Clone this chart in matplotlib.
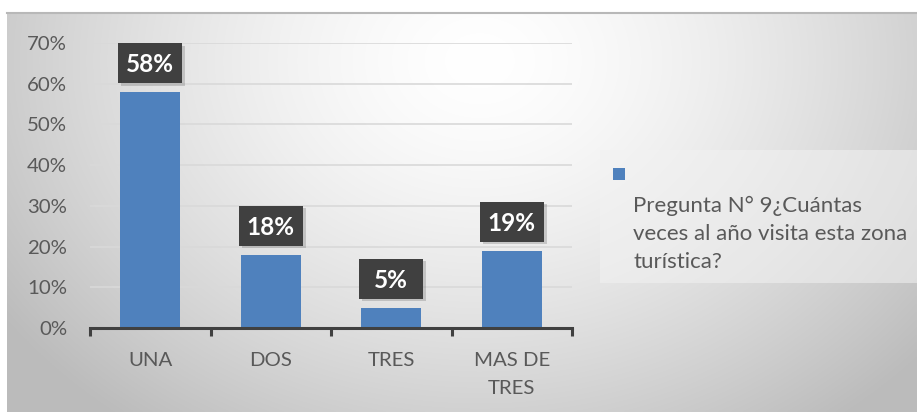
import numpy as np
import matplotlib
matplotlib.use("Agg")
import matplotlib.pyplot as plt
from matplotlib.patches import Rectangle
import matplotlib.patheffects as pe

categories = ["UNA", "DOS", "TRES", "MAS DE\nTRES"]
values = [0.58, 0.18, 0.05, 0.19]
labels = ["58%", "18%", "5%", "19%"]
yticks = [0, 0.1, 0.2, 0.3, 0.4, 0.5, 0.6, 0.7]
ytick_labels = ["0%", "10%", "20%", "30%", "40%", "50%", "60%", "70%"]
legend_text = "Pregunta N° 9¿Cuántas\nveces al año visita esta zona\nturística?"

W, H = 917, 412
plt.rcParams['font.family'] = ['Lato', 'DejaVu Sans']
fig = plt.figure(figsize=(W / 100, H / 100), dpi=100)
fig.patch.set_facecolor("white")

# gradient background
bg = fig.add_axes([7 / W, 0, 1 - 7 / W, (H - 13) / H], zorder=-10)
xx, yy = np.meshgrid(np.linspace(7, W, 400), np.linspace(13, H, 200))
d = np.sqrt(((xx - 480) / 480) ** 2 + ((yy - 60) / 380) ** 2)
d = np.clip(d, 0, 1.2)
v = 1 - 0.2 * (d ** 1.5)
img = np.dstack([v, v, v])
bg.imshow(img, extent=[0, 1, 0, 1], aspect="auto", origin="upper", interpolation="bilinear")
bg.set_axis_off()
fig.add_artist(plt.Line2D([7 / W, 1], [(H - 13) / H, (H - 13) / H], color="#b8b8b8", lw=1.5))

# legend box
fig.add_artist(Rectangle((600 / W, (H - 283) / H), (W - 600) / W, 133 / H,
                         transform=fig.transFigure, facecolor="#f2f2f2", alpha=0.55,
                         edgecolor="none", zorder=1))
fig.add_artist(Rectangle((613 / W, (H - 180) / H), 12 / W, 12 / H,
                         transform=fig.transFigure, facecolor="#4f81bd",
                         edgecolor="none", zorder=2))
fig.text(633 / W, (H - 196) / H, legend_text, fontsize=16, color="#595959",
         va="top", ha="left", linespacing=1.5, zorder=3)

ax = fig.add_axes([90 / W, (H - 328) / H, (572 - 90) / W, (328 - 43) / H])
ax.patch.set_visible(False)
x = np.arange(len(categories))
ax.bar(x, values, width=0.5, color="#4f81bd", zorder=3)
ax.set_xlim(-0.5, 3.5)
ax.set_ylim(0, 0.7)
ax.set_yticks(yticks)
ax.set_yticklabels(ytick_labels)
ax.set_xticks(x)
ax.set_xticklabels([])
ax.set_xticks(np.arange(-0.5, 4.0, 1.0), minor=True)
ax.tick_params(axis="x", which="major", length=0)
ax.tick_params(axis="x", which="minor", length=6, width=2.2, color="#404040", direction="out")
ax.tick_params(axis="y", length=0, pad=16.5, labelsize=14.7, labelcolor="#595959")
for xi, cat in zip(x, categories):
    ax.annotate(cat, (xi, 0), xycoords=("data", "axes fraction"), xytext=(0, -24),
                textcoords="offset pixels", ha="center", va="top", fontsize=14.7,
                color="#595959", linespacing=1.8, annotation_clip=False)
for s in ["top", "right", "left"]:
    ax.spines[s].set_visible(False)
ax.spines["bottom"].set_color("#404040")
ax.spines["bottom"].set_linewidth(2.2)
ax.spines["bottom"].set_zorder(5)
ax.yaxis.grid(True, color="#d9d9d9", lw=1.2, zorder=0)
ax.set_axisbelow(True)

# data label boxes (sizes in pixels converted to data units)
px_x = 4.0 / (572 - 90)
px_y = 0.7 / (328 - 43)
bw, bh, gap = 64 * px_x, 40 * px_y, 9 * px_y
for xi, v_, lab in zip(x, values, labels):
    r = Rectangle((xi - bw / 2, v_ + gap), bw, bh, facecolor="#404040", edgecolor="none",
                  zorder=6, clip_on=False)
    r.set_path_effects([pe.SimplePatchShadow(offset=(2, -2), shadow_rgbFace="#7f7f7f", alpha=0.35),
                        pe.Normal()])
    ax.add_patch(r)
    ax.text(xi, v_ + gap + bh / 2, lab, ha="center", va="center_baseline", fontsize=17.5,
            fontweight="bold", color="white", zorder=7)

fig.savefig("out.png", dpi=100)
